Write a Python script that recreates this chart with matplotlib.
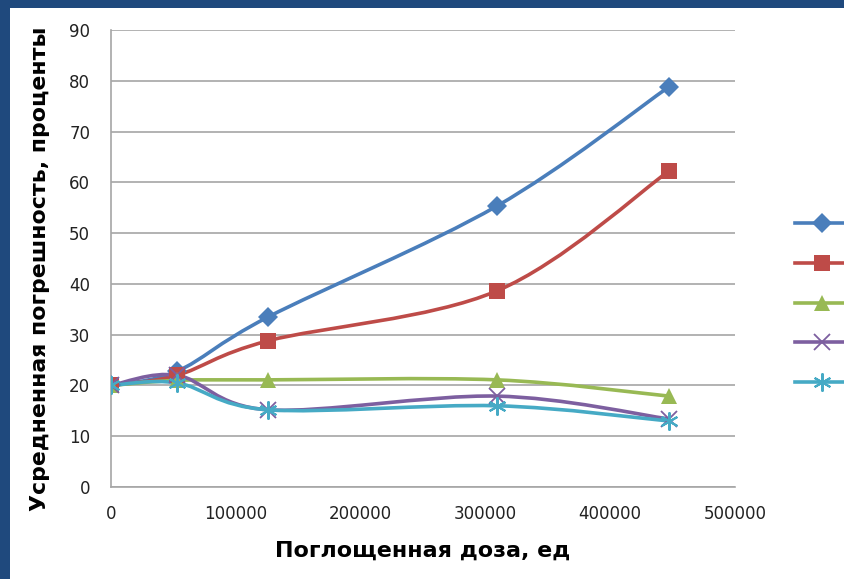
import matplotlib.pyplot as plt
import numpy as np
from matplotlib.path import Path
from matplotlib.patches import PathPatch, Rectangle
from matplotlib.lines import Line2D

dose = [0, 53000, 126000, 309000, 447000]
s1 = [20, 22.8, 33.5, 55.3, 78.8]
s2 = [20, 22.0, 28.8, 38.6, 62.2]
s3 = [20, 21.0, 21.1, 21.1, 17.9]
s4 = [20, 22.0, 15.2, 17.9, 13.4]
s5 = [20, 20.5, 15.2, 16.0, 13.0]

series = [s1, s2, s3, s4, s5]
colors = ["#4A7EBB", "#BE4B48", "#98B954", "#7D5FA0", "#46AAC5"]
markers = ["D", "s", "^", "x", (6, 2, 0)]
msizes = [10, 12, 12, 11, 13]
mew = [0, 0, 0, 1.3, 1.5]

xlabel = "Поглощенная доза, ед"
ylabel = "Усредненная погрешность, проценты"


def smooth_path(xs, ys, t=1 / 6.0):
    # Excel-like smoothed line: Catmull-Rom converted to cubic Bezier
    pts = np.column_stack([xs, ys]).astype(float)
    n = len(pts)
    verts = [pts[0]]
    codes = [Path.MOVETO]
    for i in range(n - 1):
        p0 = pts[i - 1] if i > 0 else pts[i]
        p1 = pts[i]
        p2 = pts[i + 1]
        p3 = pts[i + 2] if i + 2 < n else pts[i + 1]
        c1 = p1 + (p2 - p0) * t
        c2 = p2 - (p3 - p1) * t
        verts += [c1, c2, p2]
        codes += [Path.CURVE4] * 3
    return Path(verts, codes)


fig = plt.figure(figsize=(8.45, 5.79), dpi=100)
fig.patch.set_facecolor("#1F497D")
fig.patches.append(Rectangle((10 / 845, 0), 1, 1 - 8 / 579, transform=fig.transFigure,
                             facecolor="white", edgecolor="none", zorder=-10))

ax = fig.add_axes([111 / 845, 1 - 487 / 579, (735 - 111) / 845, (487 - 30) / 579])
ax.set_facecolor("none")

for ys, c, m, ms, w in zip(series, colors, markers, msizes, mew):
    ax.add_patch(PathPatch(smooth_path(dose, ys), facecolor="none", edgecolor=c,
                           lw=2.6, zorder=3, capstyle="round"))
    ax.plot(dose, ys, linestyle="none", marker=m, color=c, markersize=ms,
            markeredgewidth=w, zorder=4)

ax.set_xlim(0, 500000)
ax.set_ylim(0, 90)
ax.set_xticks(np.arange(0, 500001, 100000))
ax.set_yticks(np.arange(0, 91, 10))
ax.yaxis.grid(True, color="#A6A6A6", lw=1.2)
ax.set_axisbelow(True)
for s in ["top", "right"]:
    ax.spines[s].set_visible(False)
for s in ["left", "bottom"]:
    ax.spines[s].set_color("#A6A6A6")
    ax.spines[s].set_linewidth(1.2)
ax.tick_params(axis="both", length=0, labelsize=12, labelcolor="#222222")
ax.tick_params(axis="x", pad=13)
ax.tick_params(axis="y", pad=15)

ax.set_xlabel(xlabel, fontsize=16, fontweight="bold", labelpad=13)
ax.set_ylabel(ylabel, fontsize=15.8, fontweight="bold", va="center")
ax.yaxis.set_label_coords(-0.114, 0.477)

handles = [Line2D([], [], color=c, marker=m, markersize=ms, lw=2.6, markeredgewidth=w)
           for c, m, ms, w in zip(colors, markers, msizes, mew)]
fig.legend(handles, [""] * 5, loc="upper left", bbox_to_anchor=(795 / 845, 1 - 215 / 579),
           frameon=False, handlelength=3.2, labelspacing=1.3, borderaxespad=0, borderpad=0,
           handletextpad=0, fontsize=12)

fig.savefig("out.png", dpi=100)
